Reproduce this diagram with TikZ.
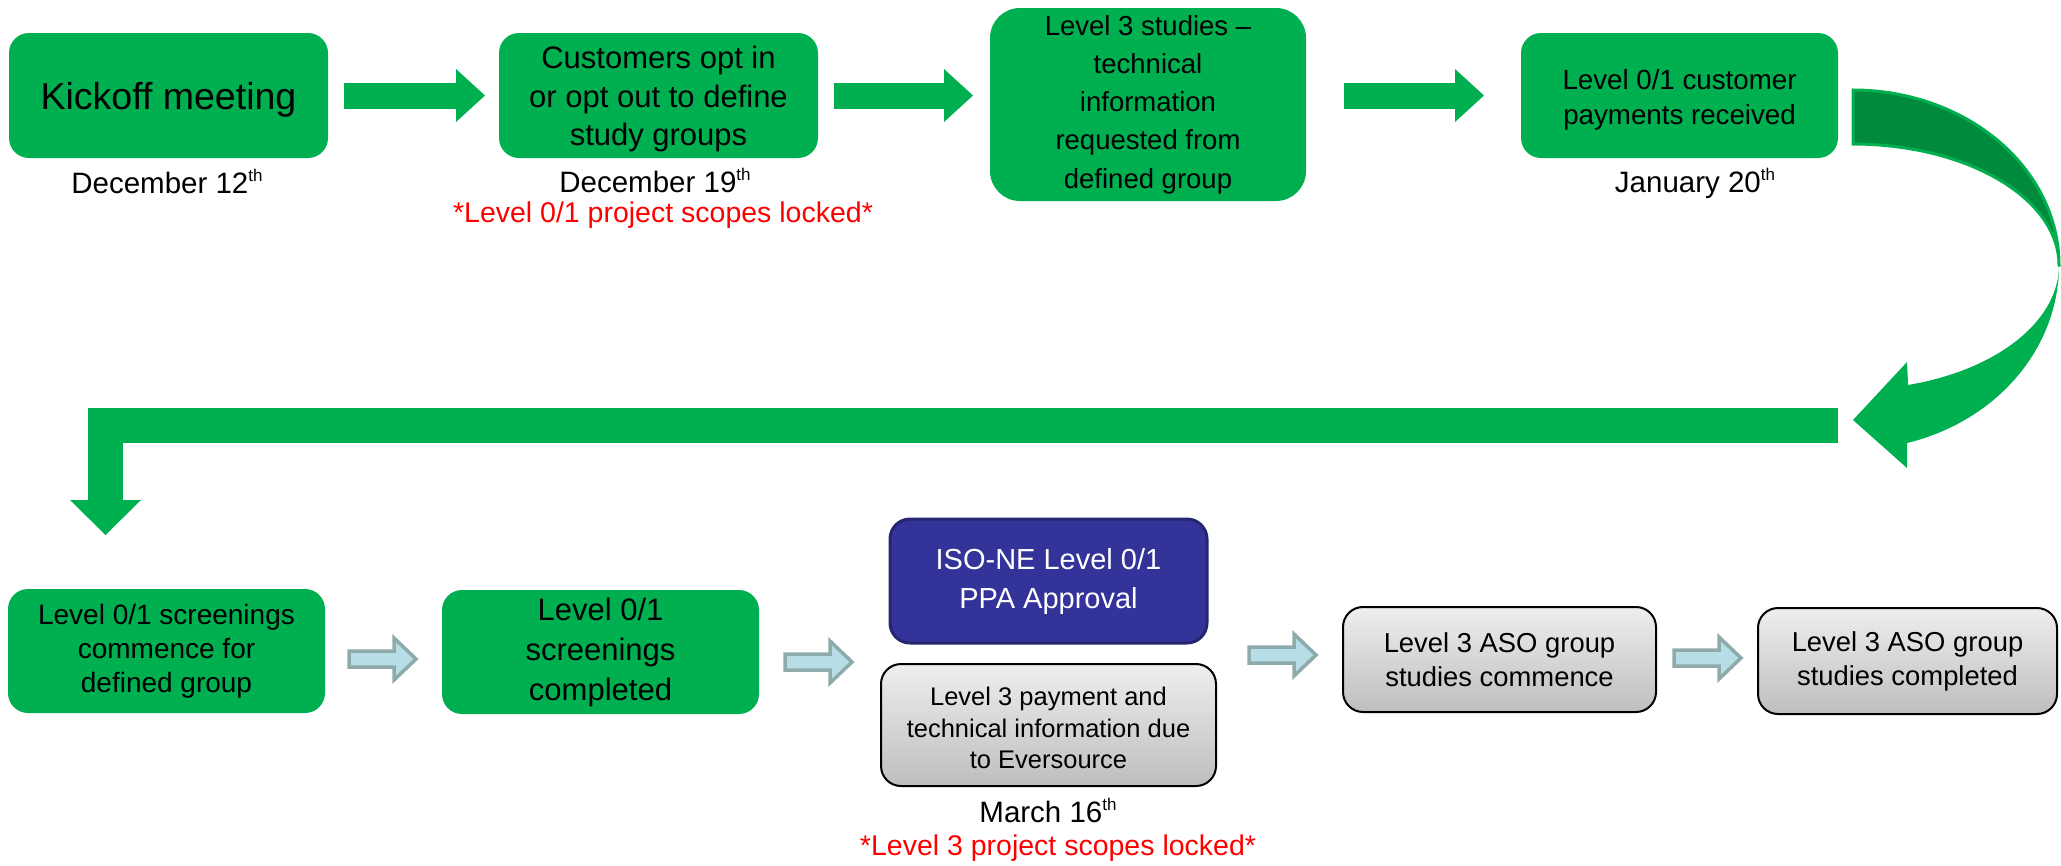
\documentclass[tikz,border=0pt]{standalone}
\usepackage{fontspec}
\setmainfont{Liberation Sans}
\usetikzlibrary{arrows.meta,calc}
\definecolor{pgreen}{RGB}{0,176,80}
\definecolor{dgreen}{RGB}{0,138,62}
\definecolor{lblue}{RGB}{183,222,230}
\definecolor{lbord}{RGB}{143,170,170}
\definecolor{iblue}{RGB}{51,51,153}
\definecolor{iborder}{RGB}{38,38,112}
\definecolor{gtop}{RGB}{238,238,238}
\definecolor{gbot}{RGB}{190,190,190}
\definecolor{pred}{RGB}{255,0,0}
\newcommand\thsup{\raisebox{0.40em}{\fontsize{17}{17}\selectfont th}}
\newcommand\lowerby[1]{\rule{0pt}{#1}}
\tikzset{
  gbox/.style={rectangle, rounded corners=20pt, fill=pgreen, draw=none, inner sep=0pt, outer sep=0pt, align=center, text=black},
  graybox/.style={rectangle, rounded corners=20pt, top color=gtop, bottom color=gbot, draw=black, line width=2pt, inner sep=0pt, outer sep=0pt, align=center, text=black},
  isobox/.style={rectangle, rounded corners=20pt, fill=iblue, draw=iborder, line width=3pt, inner sep=0pt, outer sep=0pt, align=center, text=white},
  datefont/.style={font={\fontsize{29.5}{35}\selectfont}, text=black},
  redfont/.style={font={\fontsize{28.5}{34}\selectfont}, text=pred},
  greenarrow/.style={draw=pgreen, line width=26pt, -{Triangle[width=53pt,length=29pt,line width=0pt]}},
  lightarrow/.style={fill=lblue, draw=lbord, line width=3.5pt, line join=miter},
  larrow/.pic={\draw[lightarrow] (0,-8) -- (45,-8) -- (45,-21) -- (67,0) -- (45,21) -- (45,8) -- (0,8) -- cycle;}
}
\begin{document}
\begin{tikzpicture}[x=1pt,y=-1pt]
\useasboundingbox (0,0) rectangle (2061,865);

% top row
\node[gbox, minimum width=319pt, minimum height=125pt, font={\fontsize{37.5}{45}\selectfont}] (kick) at (168.5,95.5) {\lowerby{35pt}Kickoff meeting};
\node[gbox, minimum width=319pt, minimum height=125pt, font={\fontsize{31}{38.5}\selectfont}] (cust) at (658.5,95.5) {\lowerby{29.5pt}Customers opt in\\or opt out to define\\study groups};
\node[gbox, rounded corners=30pt, minimum width=316pt, minimum height=193pt, font={\fontsize{27.5}{38.2}\selectfont}] (l3s) at (1148,104.5) {Level 3 studies –\\technical\\information\\requested from\\defined group};
\node[gbox, minimum width=317pt, minimum height=125pt, font={\fontsize{27.7}{35}\selectfont}] (pay) at (1679.5,95.5) {\lowerby{28pt}Level 0/1 customer\\payments received};

\node[datefont, anchor=base] (d12) at (167,193) {December 12\thsup};
\node[datefont, anchor=base] (d19) at (655,192) {December 19\thsup};
\node[redfont, anchor=base] (r1) at (663,222) {*Level 0/1 project scopes locked*};
\node[datefont, anchor=base] (j20) at (1695,192) {January 20\thsup};

\draw[greenarrow, shorten <=16pt, shorten >=14pt] (kick.east) -- (cust.west);
\draw[greenarrow, shorten <=16pt, shorten >=17pt] (cust.east) -- (cust.east -| l3s.west);
\draw[greenarrow, shorten <=38pt, shorten >=37pt] (l3s.east |- pay.west) -- (pay.west);

% bottom row
\node[gbox, minimum width=317pt, minimum height=124pt, font={\fontsize{28}{34}\selectfont}] (scr1) at (166.5,651) {Level 0/1 screenings\\commence for\\defined group};
\node[gbox, minimum width=317pt, minimum height=124pt, font={\fontsize{31}{40}\selectfont}] (scr2) at (600.5,652) {Level 0/1\\screenings\\completed};
\node[isobox, minimum width=317pt, minimum height=124pt, font={\fontsize{29}{39}\selectfont}] (iso) at (1048.5,581) {ISO-NE Level 0/1\\PPA Approval};
\node[graybox, minimum width=335pt, minimum height=122pt, font={\fontsize{25.5}{31.8}\selectfont}] (l3pay) at (1048.5,725) {\lowerby{24.5pt}Level 3 payment and\\technical information due\\to Eversource};
\node[graybox, minimum width=313pt, minimum height=105pt, font={\fontsize{27.4}{34}\selectfont}] (aso1) at (1499.5,659.5) {Level 3 ASO group\\studies commence};
\node[graybox, minimum width=299pt, minimum height=106pt, font={\fontsize{27.4}{34}\selectfont}] (aso2) at (1907.5,661) {Level 3 ASO group\\studies completed};

\node[datefont, anchor=base] (m16) at (1048,822) {March 16\thsup};
\node[redfont, anchor=base] (r2) at (1058,855) {*Level 3 project scopes locked*};

\pic at ($(scr1.east)+(24,8)$) {larrow};
\pic at ($(scr2.east)+(26,10)$) {larrow};
\pic at ($(aso1.west)+(-94,-4.5)$) {larrow};
\pic at ($(aso1.east)+(18,-1.5)$) {larrow};

% curved arrow from pay down to the return bar
\begin{scope}[shift={(pay.east)}]
  \filldraw[fill=dgreen, draw=pgreen, line width=3pt]
    (15,-5.5) -- plot[domain=-90:0, samples=50] ({15+206*cos(\x)},{169.5+175*sin(\x)})
    -- plot[domain=0:-90, samples=50] ({15+206*cos(\x)},{169.5+121*sin(\x)}) -- cycle;
  \fill[pgreen]
    plot[domain=0:74.8, samples=50] ({15+206*cos(\x)},{169.5+184.5*sin(\x)})
    -- (69,372.5) -- (15,324.5) -- (69,266.5)
    -- plot[domain=74.5:0, samples=50] ({15+206*cos(\x)},{169.5+124.5*sin(\x)}) -- cycle;
\end{scope}

% return bar down to the bottom row
\coordinate (barR) at ($(pay.south east)+(0,267.5)$);
\coordinate (drop) at ($(scr1.north)+(-61,-54)$);
\coordinate (bend) at (drop |- barR);
\draw[draw=pgreen, line width=35pt, line join=miter, -{Triangle[width=71pt,length=35pt,line width=0pt]}] (barR) -- (bend) -- (drop);

\end{tikzpicture}
\end{document}
